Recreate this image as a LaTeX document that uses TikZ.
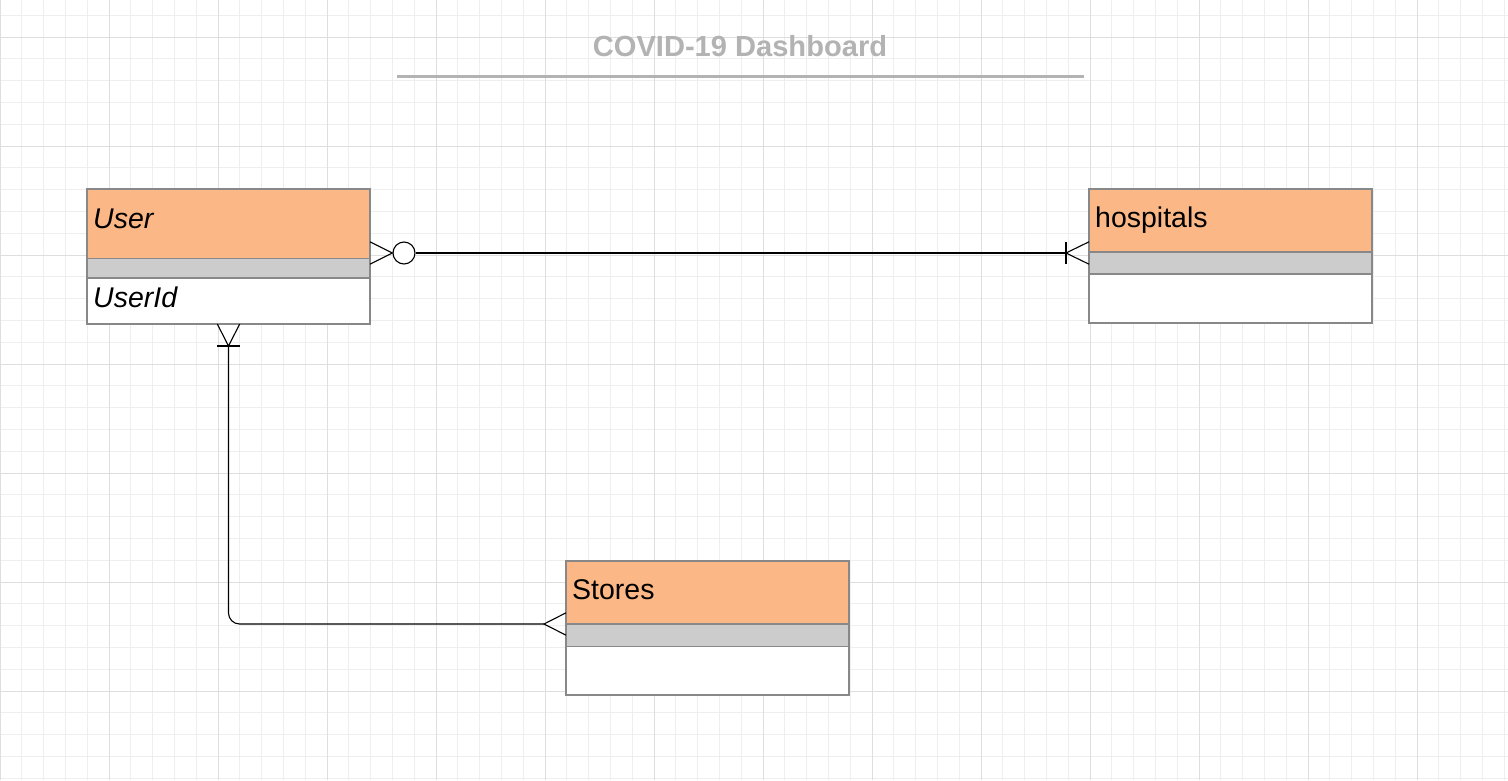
\documentclass[tikz,border=0pt]{standalone}
\usepackage{fontspec}
\setmainfont{Liberation Sans}
\definecolor{headfill}{HTML}{FBB886}
\definecolor{bandfill}{HTML}{CCCCCC}
\definecolor{boxline}{HTML}{888888}
\definecolor{titlegray}{HTML}{B3B3B3}
\definecolor{gridminor}{HTML}{EEEEEE}
\definecolor{gridmajor}{HTML}{DEDEDE}
\tikzset{
  minorgrid/.style={draw=gridminor, line width=1pt},
  majorgrid/.style={draw=gridmajor, line width=1pt},
  part/.style={draw=boxline, line width=1.2pt, anchor=north west, inner sep=0pt, outer sep=0pt, minimum width=283pt},
  headpart/.style={part, fill=headfill},
  bandpart/.style={part, fill=bandfill},
  bodypart/.style={part, fill=white},
  entlabel/.style={anchor=base west, inner sep=0pt, font=\fontsize{28.5}{34}\selectfont},
  conn/.style={draw=black, line width=1.1pt},
  zerocirc/.style={circle, draw=black, line width=1.1pt, fill=white, minimum size=22pt, inner sep=0pt},
}
\begin{document}
\begin{tikzpicture}[x=1pt,y=-1pt]
\useasboundingbox (0,0) rectangle (1508,780);
\fill[white] (0,0) rectangle (1508,780);
% grid
\foreach \i in {0,...,69} { \draw[minorgrid] ({\i*21.8},0) -- ({\i*21.8},780); }
\foreach \k in {0,...,35} { \draw[minorgrid] (0,{15.2+\k*21.8}) -- (1508,{15.2+\k*21.8}); }
\foreach \i in {0,...,13} { \draw[majorgrid] ({\i*109},0) -- ({\i*109},780); }
\foreach \k in {0,...,6} { \draw[majorgrid] (0,{37+\k*109}) -- (1508,{37+\k*109}); }
% title
\node[anchor=base, inner sep=0pt, text=titlegray, font=\bfseries\fontsize{29.1}{34}\selectfont] (title) at (740,56.5) {COVID-19 Dashboard};
\coordinate (ruleL) at (397,76);
\coordinate (ruleR) at (1084,76);
\draw[titlegray, line width=3pt] (ruleL) -- (ruleR);
% User
\node[headpart, minimum height=69.5pt] (userhead) at (87,189) {};
\node[bandpart, minimum height=19.5pt] (userband) at (userhead.south west) {};
\node[bodypart, minimum height=46pt] (userbody) at (userband.south west) {};
\node[entlabel] (usertitle) at ([xshift=6pt,yshift=-39pt]userhead.north west) {\itshape User};
\node[entlabel] (userid) at ([xshift=6pt,yshift=-29pt]userband.south west) {\itshape UserId};
% hospitals
\node[headpart, minimum height=63pt] (hosphead) at (1089,189) {};
\node[bandpart, minimum height=22pt] (hospband) at (hosphead.south west) {};
\node[bodypart, minimum height=49pt] (hospbody) at (hospband.south west) {};
\node[entlabel] (hosptitle) at ([xshift=6pt,yshift=-38pt]hosphead.north west) {hospitals};
% Stores
\node[headpart, minimum height=63pt] (storehead) at (566,561) {};
\node[bandpart, minimum height=22.5pt] (storeband) at (storehead.south west) {};
\node[bodypart, minimum height=48.5pt] (storebody) at (storeband.south west) {};
\node[entlabel] (storetitle) at ([xshift=6pt,yshift=-38.5pt]storehead.north west) {Stores};
% User -- hospitals (zero or many  /  one or many)
\coordinate (u1) at ([yshift=-64pt]userhead.north east);
\coordinate (h1) at ([yshift=-64pt]hosphead.north west);
\node[zerocirc] (ucirc) at ([xshift=34pt]u1) {};
\coordinate (hfoot) at ([xshift=-23pt]h1);
\draw[conn] (ucirc.east) -- (hfoot);
\draw[conn] ([yshift=11.2pt]u1) -- (ucirc.west) -- ([yshift=-11.2pt]u1);
\draw[conn] ([yshift=11.2pt]h1) -- (hfoot) -- ([yshift=-11.2pt]h1);
\draw[conn] ([yshift=11.2pt]hfoot) -- ([yshift=-11.2pt]hfoot);
% User -- Stores (one or many / many)
\coordinate (u2) at ([xshift=141.5pt]userbody.south west);
\coordinate (ufoot) at ([yshift=-22pt]u2);
\coordinate (s1) at (storehead.south west);
\coordinate (sfoot) at ([xshift=-22pt]s1);
\draw[conn, rounded corners=11pt] (ufoot) |- (sfoot);
\draw[conn] ([xshift=-11.2pt]u2) -- (ufoot) -- ([xshift=11.2pt]u2);
\draw[conn] ([xshift=-11.2pt]ufoot) -- ([xshift=11.2pt]ufoot);
\draw[conn] ([yshift=11.2pt]s1) -- (sfoot) -- ([yshift=-11.2pt]s1);
\end{tikzpicture}
\end{document}
